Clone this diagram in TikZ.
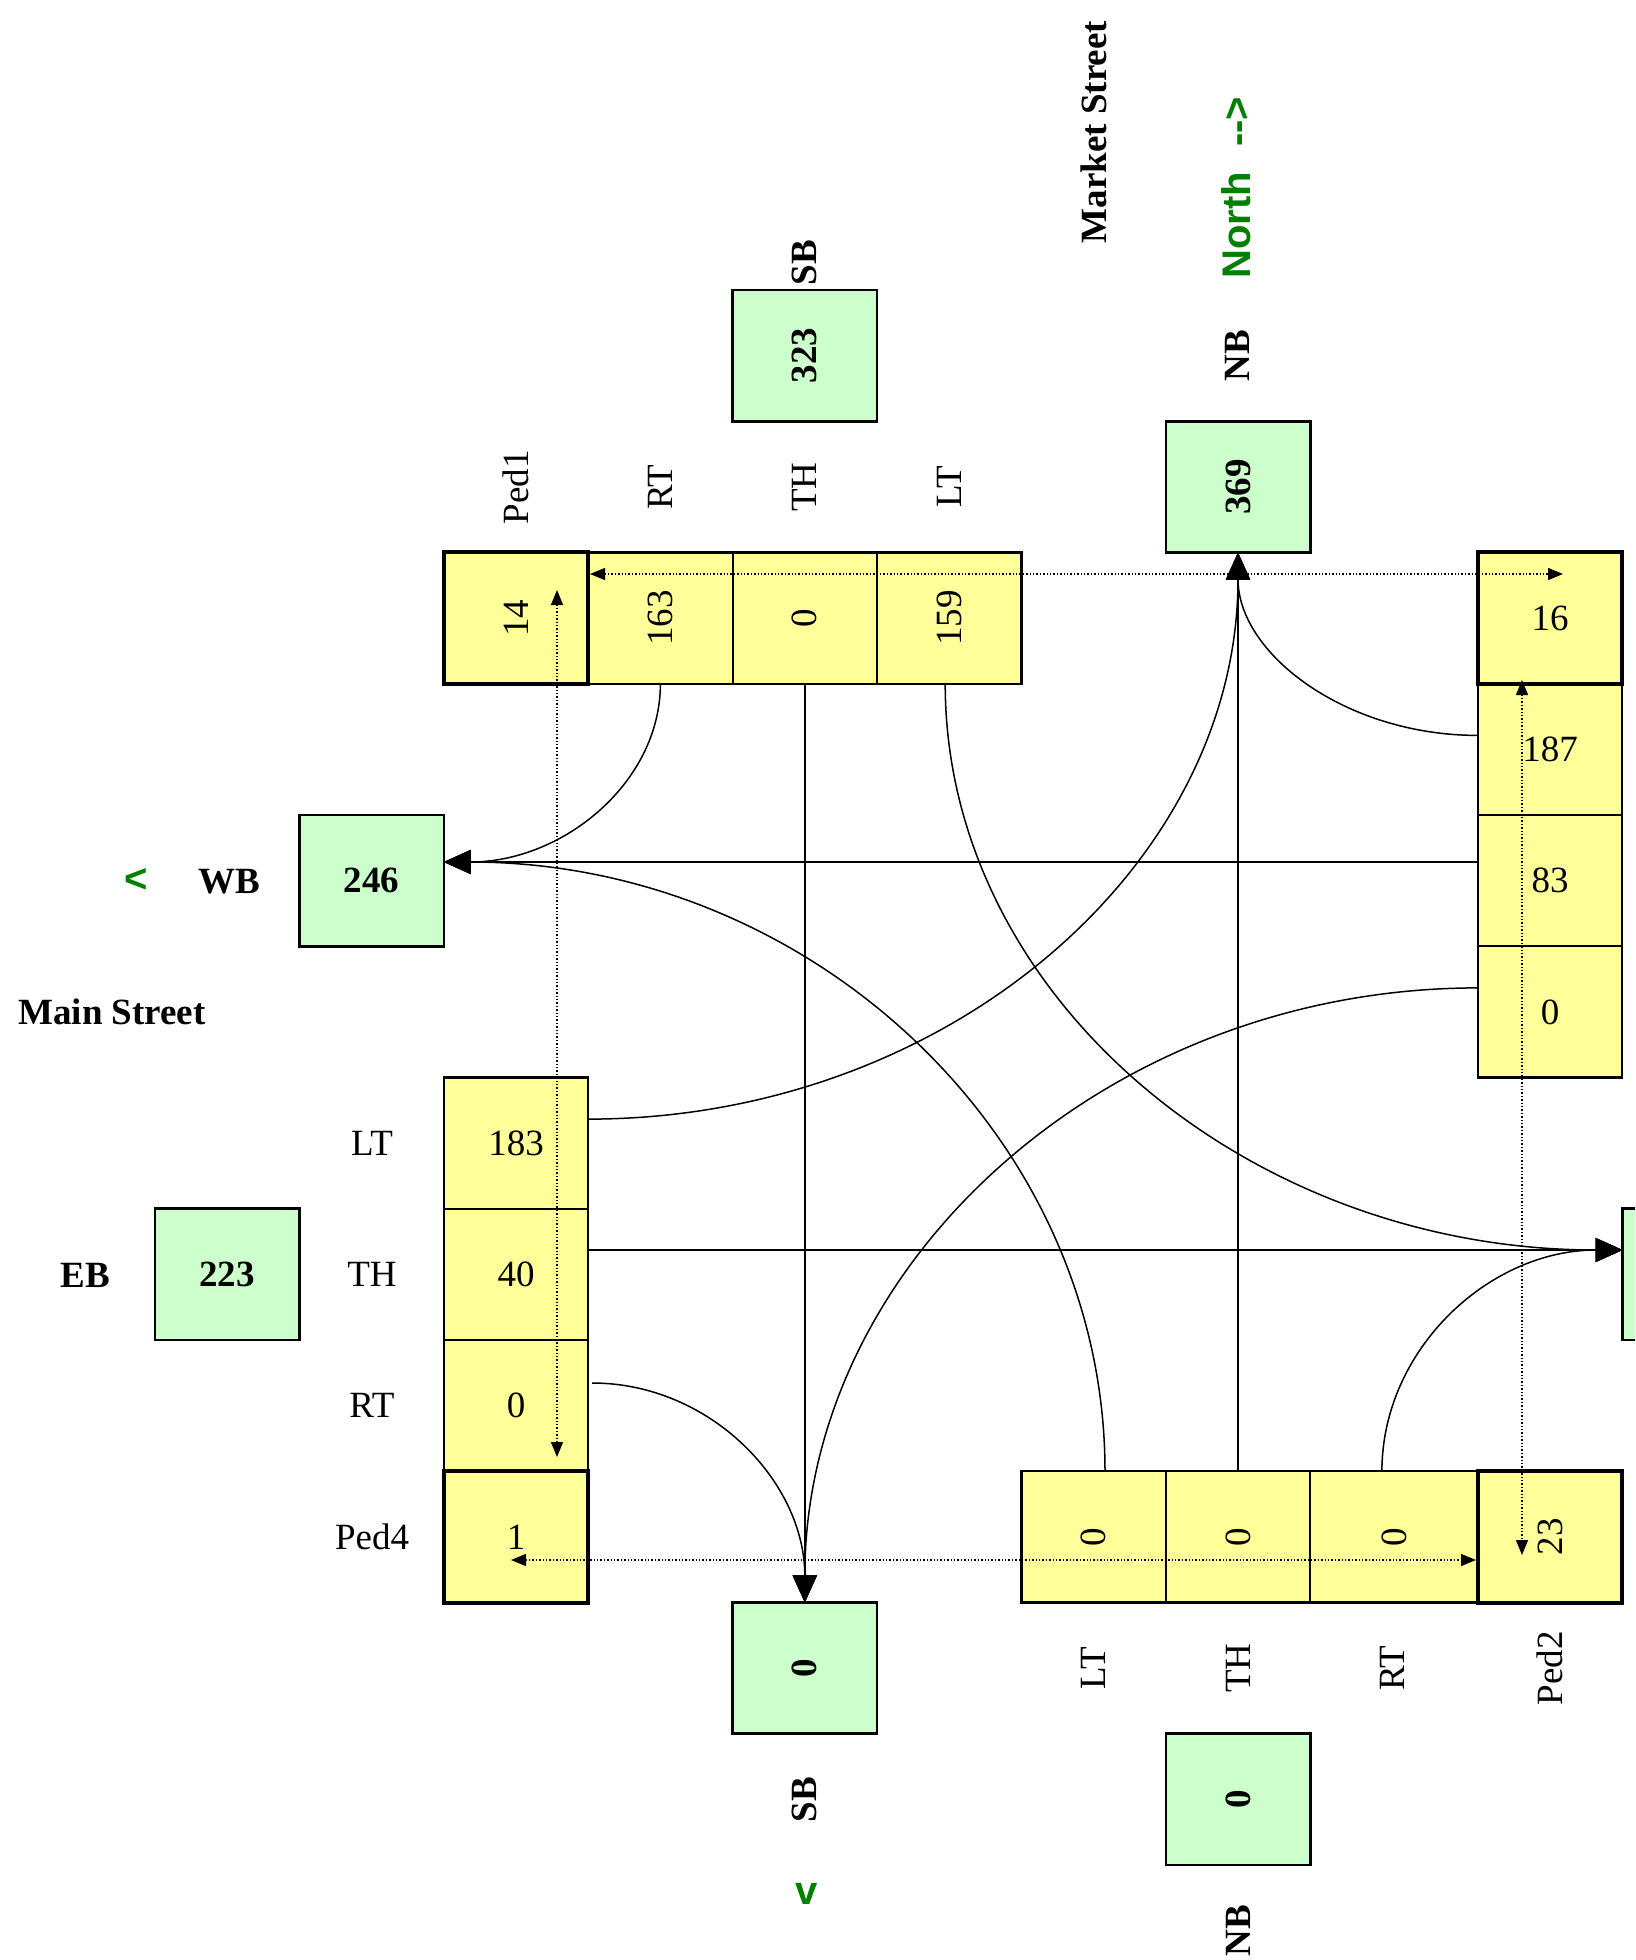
\documentclass[tikz,border=0pt]{standalone}
\usepackage{fontspec}
\setmainfont{Liberation Serif}
\newfontfamily\arialfont{Liberation Sans}
\usetikzlibrary{arrows.meta,calc}
\definecolor{laneyellow}{HTML}{FFFF99}
\definecolor{volgreen}{HTML}{CCFFCC}
\definecolor{dirgreen}{HTML}{008000}
\begin{document}
\begin{tikzpicture}[x=0.5pt,y=-0.5pt,
  every node/.style={font=\fontsize{18.5}{22}\selectfont, inner sep=0pt, outer sep=0pt},
  lane/.style={draw, fill=laneyellow, line width=1.1pt, minimum width=72.2pt, minimum height=65.625pt},
  pedbox/.style={lane, line width=2pt},
  vol/.style={draw, fill=volgreen, line width=1.3pt, minimum width=72.2pt, minimum height=65.625pt, font=\fontsize{18.5}{22}\selectfont\bfseries},
  blbl/.style={font=\fontsize{18.5}{22}\selectfont\bfseries},
  dirtxt/.style={text=dirgreen, font=\fontsize{20}{24}\selectfont\arialfont\bfseries},
  flow/.style={line width=0.75pt, -{Triangle[length=13.5pt,width=12pt]}},
  xing/.style={line width=0.7pt, densely dotted, {Triangle[length=7.5pt,width=6pt]}-{Triangle[length=7.5pt,width=6pt]}},
]
\useasboundingbox (0,0) rectangle (1635,1960);
\fill[white] (0,0) rectangle (1635,1960);
\clip (0,0) rectangle (1635,1960);

% volume boxes
\node[vol] (sbIn) at (804.8,355.6) {\rotatebox{90}{323}};
\node[vol] (nbOut) at (1238,486.9) {\rotatebox{90}{369}};
\node[vol] (wbOut) at (371.6,880.6) {246};
\node[vol] (ebIn) at (227.2,1274.4) {223};
\node[vol] (ebOut) at (1694.7,1274.4) {};
\node[vol] (sbOut) at (804.8,1668.1) {\rotatebox{90}{0}};
\node[vol] (nbIn) at (1238,1799.4) {\rotatebox{90}{0}};

% top approach (southbound)
\node[lane] (tRT) at (660.4,618.1) {\rotatebox{90}{163}};
\node[lane] (tTH) at (804.8,618.1) {\rotatebox{90}{0}};
\node[lane] (tLT) at (949.2,618.1) {\rotatebox{90}{159}};
\node[pedbox] (tPed) at (516,618.1) {\rotatebox{90}{14}};

% right approach (westbound)
\node[lane] (rRT) at (1550,749.4) {187};
\node[lane] (rTH) at (1550,880.6) {83};
\node[lane] (rLT) at (1550,1011.9) {0};
\node[pedbox] (rPed) at (1550,618.1) {16};

% left approach (eastbound)
\node[lane] (lLT) at (516,1143.1) {183};
\node[lane] (lTH) at (516,1274.4) {40};
\node[lane] (lRT) at (516,1405.6) {0};
\node[pedbox] (lPed) at (516,1536.9) {1};

% bottom approach (northbound)
\node[lane] (bLT) at (1093.6,1536.9) {\rotatebox{90}{0}};
\node[lane] (bTH) at (1238,1536.9) {\rotatebox{90}{0}};
\node[lane, minimum width=83.65pt] (bRT) at (1393.9,1536.9) {\rotatebox{90}{0}};
\node[pedbox] (bPed) at (1550,1536.9) {\rotatebox{90}{23}};

% labels
\node[blbl, rotate=90] (mkt) at (1094,132) {Market Street};
\node[dirtxt, rotate=90] (north) at (1236,187.5) {North\hspace{12.5pt}-->};
\node[blbl, rotate=90] (sbTop) at (804.8,262.5) {SB};
\node[blbl, rotate=90] (nbTop) at (1237,356) {NB};
\node[rotate=90] (lbPed1) at (516,487) {Ped1};
\node[rotate=90] (lbTRT) at (660.4,487) {RT};
\node[rotate=90] (lbTTH) at (804.8,487) {TH};
\node[rotate=90] (lbTLT) at (949.2,487) {LT};
\node[dirtxt] (wArrow) at (136,880) {<};
\node[blbl] (wbLbl) at (229,882) {WB};
\node[blbl] (mainSt) at (112,1012) {Main Street};
\node[blbl] (ebLbl) at (85,1275) {EB};
\node (lbLLT) at (372,1143.1) {LT};
\node (lbLTH) at (372,1274.4) {TH};
\node (lbLRT) at (372,1405.6) {RT};
\node (lbLPed) at (372,1536.9) {Ped4};
\node[rotate=90] (lbBLT) at (1093.6,1668.1) {LT};
\node[rotate=90] (lbBTH) at (1238,1668.1) {TH};
\node[rotate=90] (lbBRT) at (1392,1668.1) {RT};
\node[rotate=90] (lbBPed) at (1550,1668.1) {Ped2};
\node[blbl, rotate=90] (sbBot) at (804.8,1799.4) {SB};
\node[dirtxt] (sArrow) at (807,1894) {v};
\node[blbl, rotate=90] (nbBot) at (1238,1930.6) {NB};

% arrow targets and start points
\coordinate (wbTip) at ($(wbOut.east)+(0,-18.6)$);
\coordinate (ebTip) at ($(ebOut.west)+(0,-24.4)$);
\coordinate (tLTs) at ($(tLT.south)+(-4,0)$);
\coordinate (rRTs) at ($(rRT.west)+(0,-14)$);
\coordinate (rTHs) at ($(rTH.west)+(0,-18.6)$);
\coordinate (rLTs) at ($(rLT.west)+(0,-24)$);
\coordinate (lLTs) at ($(lLT.east)+(0,-24)$);
\coordinate (lTHs) at ($(lTH.east)+(0,-24.4)$);
\coordinate (lRTs) at ($(lRT.east)+(4,-22.6)$);
\coordinate (bLTs) at ($(bLT.north)+(11.4,0)$);
\coordinate (bRTs) at ($(bRT.north)+(-12,0)$);

% movements
\draw[flow] (tRT.south) .. controls (660.4,782.2) and (563.4,862) .. (wbTip);
\draw[flow] (tTH.south) -- (sbOut.north);
\draw[flow] (tLTs) .. controls (945.2,996.5) and (1248.4,1250) .. (ebTip);

\draw[flow] (rRTs) .. controls (1345.2,735.4) and (1238,653.5) .. (nbOut.south);
\draw[flow] (rTHs) -- (wbTip);
\draw[flow] (rLTs) .. controls (1106,987.9) and (804.8,1263.1) .. (sbOut.north);

\draw[flow] (lLTs) .. controls (947.1,1119.1) and (1238,865.4) .. (nbOut.south);
\draw[flow] (lTHs) -- (ebTip);
\draw[flow] (lRTs) .. controls (709.6,1383) and (804.8,1481.3) .. (sbOut.north);

\draw[flow] (bLTs) .. controls (1105,1134.8) and (809,862) .. (wbTip);
\draw[flow] (bTH.north) -- (nbOut.south);
\draw[flow] (bRTs) .. controls (1381.9,1349) and (1489.6,1250) .. (ebTip);

% pedestrian crossings
\coordinate (xTL) at (590,574);
\coordinate (xTR) at (1563,574);
\coordinate (xLT) at (557,590);
\coordinate (xLB) at (557,1457);
\coordinate (xBL) at (511,1560);
\coordinate (xBR) at (1476,1560);
\coordinate (xRT) at (1522,680);
\coordinate (xRB) at (1522,1555);
\draw[xing] (xTL) -- (xTR);
\draw[xing] (xLT) -- (xLB);
\draw[xing] (xBL) -- (xBR);
\draw[xing] (xRT) -- (xRB);
\end{tikzpicture}
\end{document}
